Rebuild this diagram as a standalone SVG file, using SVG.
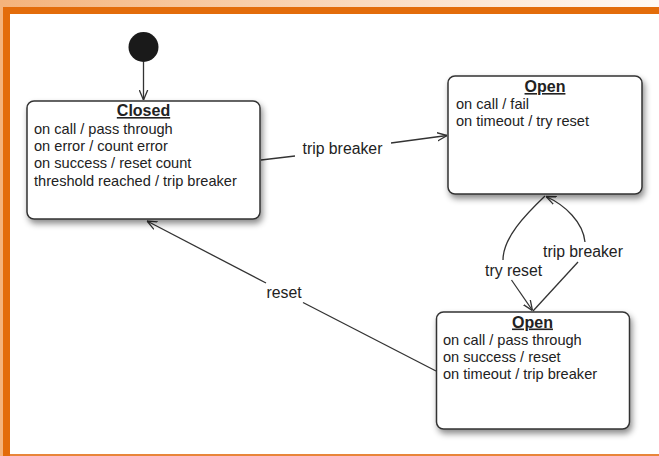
<svg xmlns="http://www.w3.org/2000/svg" width="659" height="456" viewBox="0 0 659 456">
<defs>
<linearGradient id="topg" x1="0" y1="0" x2="1" y2="0">
<stop offset="0" stop-color="#f4b37b"/>
<stop offset="1" stop-color="#fffaf6"/>
</linearGradient>
<filter id="sh" x="-10%" y="-10%" width="125%" height="135%">
<feDropShadow dx="2" dy="4" stdDeviation="3" flood-color="#000" flood-opacity="0.45"/>
</filter>
<marker id="arr" viewBox="0 0 10 10" refX="10" refY="5" markerWidth="10" markerHeight="10" markerUnits="userSpaceOnUse" orient="auto">
<path d="M0,0.8 L10,5 L0,9.2" fill="none" stroke="#333" stroke-width="1.3"/>
</marker>
<style>
.box{fill:#fff;stroke:#333;stroke-width:1.5}
.t{font-family:"Liberation Sans",Arial,sans-serif;font-size:14.6px;fill:#222}
.h{font-family:"Liberation Sans",Arial,sans-serif;font-size:16px;font-weight:bold;fill:#222;text-decoration:underline;text-anchor:middle}
.l{font-family:"Liberation Sans",Arial,sans-serif;font-size:15.8px;fill:#222}
.c{fill:none;stroke:#333;stroke-width:1.3}
</style>
</defs>
<g id="background">
<rect x="0" y="0" width="659" height="456" fill="#fff"/>
<rect x="0" y="0" width="659" height="7" fill="url(#topg)"/>
<rect x="0" y="0" width="3" height="456" fill="#f4b37b"/>
<rect x="3" y="7" width="656" height="7" fill="#e36c0a"/>
<rect x="3" y="7" width="7" height="449" fill="#e36c0a"/>
<rect x="10" y="454" width="649" height="2" fill="#e8853a"/>
</g>
<g id="connectors">
<line class="c" x1="143.5" y1="62" x2="143.5" y2="100" marker-end="url(#arr)"/>
<line class="c" x1="261" y1="160" x2="295" y2="156"/>
<line class="c" x1="391" y1="143" x2="447" y2="135.5" marker-end="url(#arr)"/>
<line class="c" x1="436" y1="371" x2="303" y2="302.5"/>
<line class="c" x1="266" y1="283" x2="147" y2="221" marker-end="url(#arr)"/>
<path class="c" d="M545,196 C525,215 503,238 503,260"/>
<line class="c" x1="511.5" y1="280" x2="532.5" y2="310.5" marker-end="url(#arr)"/>
<line class="c" x1="533" y1="311" x2="578" y2="262"/>
<path class="c" d="M585,242 C583,222 565,205 546,196.5" marker-end="url(#arr)"/>
<text class="l" x="302.5" y="154">trip breaker</text>
<text class="l" x="266.5" y="298">reset</text>
<text class="l" x="485" y="276">try reset</text>
<text class="l" x="543" y="257">trip breaker</text>
</g>
<g id="initial">
<circle cx="143.5" cy="47" r="15" fill="#1a1a1a"/>
</g>
<g id="closed">
<rect class="box" x="27" y="101" width="233" height="118" rx="7" filter="url(#sh)"/>
<text class="h" x="143.5" y="116">Closed</text>
<text class="t" x="34" y="133.5">on call / pass through</text>
<text class="t" x="34" y="151">on error / count error</text>
<text class="t" x="34" y="168.3">on success / reset count</text>
<text class="t" x="34" y="185.6">threshold reached / trip breaker</text>
</g>
<g id="open">
<rect class="box" x="448" y="76" width="194" height="118" rx="7" filter="url(#sh)"/>
<text class="h" x="545" y="92">Open</text>
<text class="t" x="456" y="108.5">on call / fail</text>
<text class="t" x="456" y="126">on timeout / try reset</text>
</g>
<g id="half-open">
<rect class="box" x="436.5" y="312" width="193" height="117" rx="7" filter="url(#sh)"/>
<text class="h" x="532.5" y="327.5">Open</text>
<text class="t" x="443" y="344.5">on call / pass through</text>
<text class="t" x="443" y="361.8">on success / reset</text>
<text class="t" x="443" y="379">on timeout / trip breaker</text>
</g>
</svg>
